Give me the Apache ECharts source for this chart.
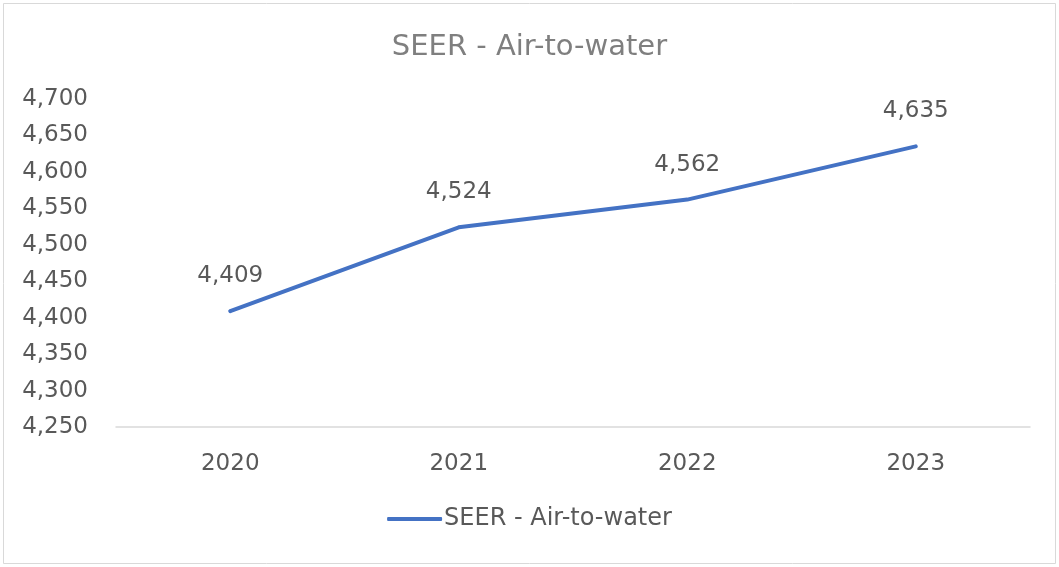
<!DOCTYPE html>
<html>
<head>
<meta charset="utf-8">
<script src="https://cdn.jsdelivr.net/npm/echarts@6/dist/echarts.min.js"></script>
<style>
html,body{margin:0;padding:0;background:#fff;}
#c{width:1059px;height:567px;}
</style>
</head>
<body>
<div id="c"></div>
<script>
var categories = ['2020', '2021', '2022', '2023'];
var seerValues = [4409, 4524, 4562, 4635];
var seriesName = 'SEER - Air-to-water';
var chartTitle = 'SEER - Air-to-water';
var yMin = 4250, yMax = 4700, yStep = 50;

function fmt(v){ return Number(v).toLocaleString('en-US'); }

var chart = echarts.init(document.getElementById('c'), null, {renderer:'canvas'});
var FONT = 'DejaVu Sans';
chart.setOption({
  backgroundColor: '#ffffff',
  animation: false,
  graphic: [{
    type: 'rect',
    shape: {x: 3.5, y: 3.5, width: 1052, height: 560},
    style: {fill: 'none', stroke: '#d9d9d9', lineWidth: 1},
    silent: true
  }],
  title: {
    text: chartTitle,
    left: 'center',
    top: 28,
    textStyle: {fontFamily: FONT, fontSize: 29, fontWeight: 'normal', color: '#7f7f7f'}
  },
  legend: {
    data: [seriesName],
    bottom: 31,
    left: 'center',
    icon: 'roundRect',
    itemWidth: 55,
    itemHeight: 4,
    itemGap: 10,
    textStyle: {fontFamily: FONT, fontSize: 24, color: '#595959', padding: [0,0,0,-3]}
  },
  grid: {left: 116, right: 29, top: 99, bottom: 140, containLabel: false},
  xAxis: {
    type: 'category',
    data: categories,
    boundaryGap: true,
    axisLine: {show: true, lineStyle: {color: '#d9d9d9', width: 1.5}},
    axisTick: {show: false},
    axisLabel: {fontFamily: FONT, fontSize: 23, color: '#595959', margin: 26}
  },
  yAxis: {
    type: 'value',
    min: yMin,
    max: yMax,
    interval: yStep,
    axisLine: {show: false},
    axisTick: {show: false},
    splitLine: {show: false},
    axisLabel: {fontFamily: FONT, fontSize: 23, color: '#595959', margin: 28, formatter: fmt}
  },
  series: [{
    name: seriesName,
    type: 'line',
    data: seerValues,
    symbol: 'circle',
    symbolSize: 3,
    showSymbol: true,
    lineStyle: {color: '#4472c4', width: 4, cap: 'round'},
    itemStyle: {color: '#4472c4'},
    label: {
      show: true,
      position: 'top',
      distance: 22,
      fontFamily: FONT,
      fontSize: 23,
      color: '#595959',
      formatter: function(p){ return fmt(p.value); }
    }
  }]
});
</script>
</body>
</html>
